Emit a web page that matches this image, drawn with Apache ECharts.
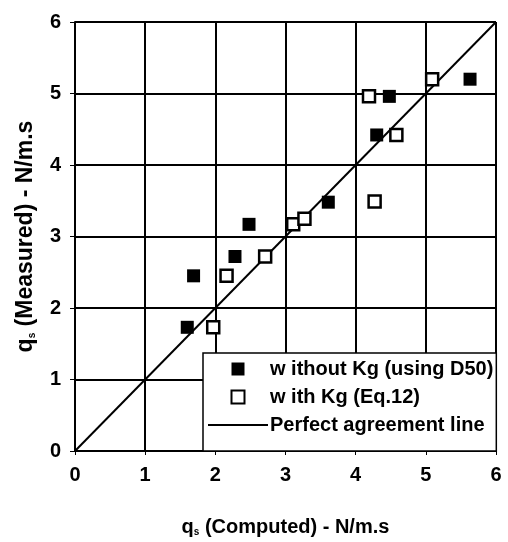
<!DOCTYPE html>
<html>
<head>
<meta charset="utf-8">
<script src="https://cdn.jsdelivr.net/npm/echarts@6/dist/echarts.min.js"></script>
<style>
html,body{margin:0;padding:0;background:#fff;}
#chart{width:508px;height:542px;}
</style>
</head>
<body>
<div id="chart"></div>
<script>
// values: [computed, measured]
var withoutKg = [[1.60,1.73],[1.69,2.45],[2.28,2.72],[2.48,3.17],[3.61,3.48],[4.30,4.42],[4.48,4.96],[5.63,5.20]];
var withKg = [[1.97,1.73],[2.16,2.45],[2.71,2.72],[3.11,3.17],[3.27,3.25],[4.27,3.49],[4.58,4.42],[4.19,4.96],[5.09,5.20]];
var perfectLine = [[0,0],[6,6]];
var seriesNames = ['w ithout Kg (using D50)', 'w ith Kg (Eq.12)', 'Perfect agreement line'];

var font = '"Liberation Sans", Arial, sans-serif';
function nameRich(size) {
    return {
        q: {fontFamily: font, fontWeight: 'bold', fontSize: size, color: '#000'},
        s: {fontFamily: font, fontWeight: 'bold', fontSize: 10, color: '#000', verticalAlign: 'bottom', padding: [8, 0, 0, 0]},
        t: {fontFamily: font, fontWeight: 'bold', fontSize: size, color: '#000'}
    };
}
var square = 'path://M0,0H10V10H0Z';
var dash = 'path://M0,0H60V2H0Z';

var chart = echarts.init(document.getElementById('chart'), null, {renderer: 'canvas'});
var option = {
    animation: false,
    backgroundColor: '#fff',
    grid: {left: 75, right: 12, top: 22, bottom: 90},
    xAxis: {
        type: 'value', min: 0, max: 6, interval: 1,
        name: '{q|q}{s|s}{t| (Computed) - N/m.s}',
        nameLocation: 'middle', nameGap: 66,
        nameTextStyle: {rich: nameRich(20)},
        axisLine: {show: true, lineStyle: {color: '#000', width: 2}},
        axisTick: {show: true, length: 4, lineStyle: {color: '#000', width: 1}},
        axisLabel: {color: '#000', fontFamily: font, fontWeight: 'bold', fontSize: 20, margin: 14},
        splitLine: {show: true, lineStyle: {color: '#000', width: 2}}
    },
    yAxis: {
        type: 'value', min: 0, max: 6, interval: 1,
        name: '{q|q}{s|s}{t| (Measured) - N/m.s}',
        nameLocation: 'middle', nameGap: 38,
        nameTextStyle: {rich: nameRich(23)},
        axisLine: {show: true, lineStyle: {color: '#000', width: 2}},
        axisTick: {show: true, length: 5, lineStyle: {color: '#000', width: 1}},
        axisLabel: {color: '#000', fontFamily: font, fontWeight: 'bold', fontSize: 20, margin: 14},
        splitLine: {show: true, lineStyle: {color: '#000', width: 2}}
    },
    legend: {
        orient: 'vertical',
        left: 203, top: 353,
        padding: [6, 3, 16, 5],
        itemWidth: 60, itemHeight: 13, itemGap: 8,
        symbolKeepAspect: true,
        backgroundColor: '#fff',
        borderColor: '#000', borderWidth: 1.5, borderRadius: 0,
        textStyle: {color: '#000', fontFamily: font, fontWeight: 'bold', fontSize: 20, lineHeight: 20, padding: [0, 0, 0, -3]},
        data: [
            {name: seriesNames[0], icon: square},
            {name: seriesNames[1], icon: square},
            {name: seriesNames[2], icon: dash}
        ]
    },
    series: [
        {
            name: seriesNames[2], type: 'line', data: perfectLine,
            symbol: 'none', lineStyle: {color: '#000', width: 2},
            itemStyle: {color: '#000'}, z: 2
        },
        {
            name: seriesNames[0], type: 'scatter', data: withoutKg,
            symbol: 'rect', symbolSize: 13,
            itemStyle: {color: '#000', opacity: 1}, z: 3
        },
        {
            name: seriesNames[1], type: 'scatter', data: withKg,
            symbol: 'rect', symbolSize: 12,
            itemStyle: {color: '#fff', borderColor: '#000', borderWidth: 2.5, opacity: 1}, z: 4
        }
    ]
};
chart.setOption(option);
</script>
</body>
</html>
